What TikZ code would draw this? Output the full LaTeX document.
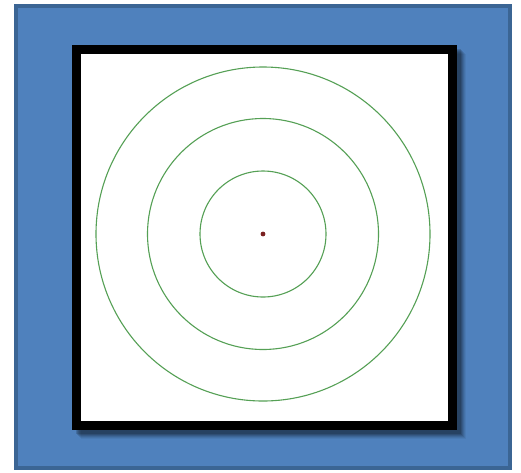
\documentclass[tikz,border=0pt]{standalone}
\usetikzlibrary{calc}
\definecolor{bluefill}{HTML}{4F81BD}
\definecolor{blueedge}{HTML}{3B6594}
\definecolor{ringgreen}{HTML}{55A055}
\definecolor{dotred}{HTML}{7A2020}
\tikzset{
  ring/.style={draw=ringgreen, line width=1.1pt},
  frame/.style={draw=black, line width=8.5pt, fill=white},
}
\begin{document}
\begin{tikzpicture}[x=1pt,y=-1pt]
\useasboundingbox (0,0) rectangle (521,472);
\fill[white] (0,0) rectangle (521,472);
% outer blue panel
\draw[blueedge, line width=4pt, fill=bluefill] (16,6) rectangle (510,468);
% shadow of frame
\foreach \o/\a in {9/0.05,8/0.07,7/0.09,6/0.11,5/0.13,4/0.15}{
  \fill[black, opacity=\a] (72+\o,45+\o) rectangle (457+\o,430+\o);
}
% black frame
\draw[frame] (76.5,49.5) rectangle (452.5,425.5);
% centre and rings
\coordinate (c) at (263,234);
\draw[ring] (c) circle[radius=167];
\draw[ring] (c) circle[radius=115.5];
\draw[ring] (c) circle[radius=63];
\fill[dotred] (c) circle[radius=2.4];
\end{tikzpicture}
\end{document}
